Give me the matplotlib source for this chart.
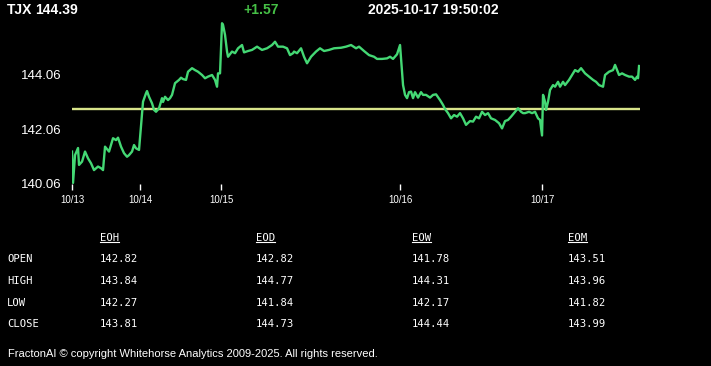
import matplotlib
matplotlib.use("Agg")
import matplotlib.pyplot as plt
from matplotlib.lines import Line2D

# header
symbol = "TJX"
last_price = "144.39"
change = "+1.57"
stamp = "2025-10-17 19:50:02"

# intraday series: bar number (from 10/13 open) and price
bars = [0, 1, 3, 6, 7, 10, 13, 16, 19, 22, 26, 29, 31, 33, 37, 38, 41, 44, 46, 49,
        52, 55, 57, 60, 62, 64, 67, 71, 74, 75, 77, 80, 82, 84, 87, 90, 91, 93, 96, 98,
        100, 103, 107, 109, 111, 114, 116, 120, 123, 126, 130, 133, 136, 140, 141, 143, 145, 146, 148, 150,
        151, 153, 155, 156, 160, 163, 166, 170, 172, 176, 180, 185, 190, 195, 200, 203, 206, 211, 215, 218,
        221, 222, 225, 229, 232, 235, 239, 244, 248, 252, 257, 262, 269, 274, 279, 284, 287, 292, 297, 302,
        305, 310, 315, 318, 321, 325, 328, 329, 331, 333, 335, 337, 339, 341, 343, 346, 349, 351, 354, 358,
        361, 364, 368, 371, 373, 376, 379, 382, 385, 388, 391, 394, 398, 401, 404, 407, 410, 413, 416, 419,
        423, 427, 430, 433, 436, 439, 443, 446, 449, 451, 453, 457, 460, 463, 466, 468, 470, 471, 473, 474,
        476, 478, 481, 483, 486, 488, 491, 493, 497, 500, 503, 506, 509, 513, 517, 521, 524, 527, 531, 533,
        537, 541, 543, 547, 550, 553, 557, 560, 563, 565, 566, 567]
prices = [141.25, 140.10, 141.12, 141.38, 140.76, 140.88, 141.25, 141.00, 140.82, 140.57,
          140.70, 140.64, 140.57, 141.43, 141.25, 141.37, 141.74, 141.67, 141.76, 141.43,
          141.19, 141.06, 141.12, 141.25, 141.49, 141.37, 141.31, 143.08, 143.39, 143.47,
          143.26, 143.02, 142.78, 142.71, 142.84, 143.21, 143.07, 143.26, 143.14, 143.21,
          143.33, 143.76, 143.88, 143.96, 143.91, 143.88, 144.18, 144.31, 144.24, 144.18,
          144.06, 143.94, 144.00, 144.06, 144.00, 143.88, 143.63, 144.12, 144.12, 145.96,
          145.90, 145.53, 144.92, 144.73, 144.92, 144.86, 145.04, 145.16, 144.89, 144.94,
          144.98, 145.10, 144.98, 145.04, 145.16, 145.28, 145.10, 145.10, 145.04, 144.79,
          144.86, 144.92, 144.86, 145.04, 144.73, 144.49, 144.73, 144.92, 145.04, 144.94,
          144.98, 145.04, 145.06, 145.10, 145.16, 145.04, 145.10, 144.94, 144.79, 144.73,
          144.65, 144.65, 144.67, 144.73, 144.65, 144.82, 145.16, 144.67, 143.69, 143.33,
          143.21, 143.43, 143.45, 143.21, 143.43, 143.23, 143.43, 143.33, 143.33, 143.23,
          143.33, 143.35, 143.14, 142.96, 142.81, 142.66, 142.47, 142.59, 142.53, 142.66,
          142.47, 142.23, 142.37, 142.35, 142.53, 142.47, 142.71, 142.59, 142.66, 142.47,
          142.41, 142.29, 142.10, 142.37, 142.41, 142.53, 142.71, 142.84, 142.71, 142.66,
          142.66, 142.71, 142.66, 142.71, 142.47, 142.41, 141.84, 143.33, 143.08, 142.78,
          143.08, 143.51, 143.69, 143.63, 143.81, 143.63, 143.81, 143.69, 143.88, 144.06,
          144.24, 144.18, 144.31, 144.12, 144.00, 143.88, 143.81, 143.69, 143.63, 144.06,
          144.18, 144.24, 144.43, 144.06, 144.12, 144.06, 144.00, 144.00, 143.88, 144.00,
          143.94, 144.39]
ref_level = 142.82

day_bars = [0, 68, 149, 328, 470]
day_labels = ["10/13", "10/14", "10/15", "10/16", "10/17"]
y_ticks = [140.06, 142.06, 144.06]

# stats table
row_names = ["OPEN", "HIGH", "LOW", "CLOSE"]
col_names = ["EOH", "EOD", "EOW", "EOM"]
eoh = ["142.82", "143.84", "142.27", "143.81"]
eod = ["142.82", "144.77", "141.84", "144.73"]
eow = ["141.78", "144.31", "142.17", "144.44"]
eom = ["143.51", "143.96", "141.82", "143.99"]
footer = "FractonAI \u00a9 copyright Whitehorse Analytics 2009-2025. All rights reserved."

plt.rcParams['font.family'] = ['Liberation Sans', 'DejaVu Sans']

fig = plt.figure(figsize=(7.11, 3.66), dpi=100, facecolor='black')
ax = fig.add_axes([0.1013, 0.4973, 0.7989, 0.4467])
ax.set_facecolor('black')

ax.plot(bars, prices, color='#44d874', lw=1.7, zorder=3)
ax.axhline(ref_level, color='#d8e48a', lw=1.7, zorder=2)

ax.set_xlim(0, 568)
ax.set_ylim(140.06, 146.06)
ax.set_yticks(y_ticks)
ax.set_yticklabels([f"{v:.2f}" for v in y_ticks])
ax.set_xticks(day_bars)
ax.set_xticklabels(day_labels)
ax.tick_params(axis='y', length=0, pad=7.5, labelsize=9.5, labelcolor='white')
ax.tick_params(axis='x', length=4, width=1, color='white', pad=4, labelsize=7, labelcolor='white')
for s in ax.spines.values():
    s.set_visible(False)

# header line
hy = 0.973
fig.text(0.0098, hy, symbol, color='white', fontsize=10, fontweight='bold', va='center')
fig.text(0.0492, hy, last_price, color='white', fontsize=10, fontweight='bold', va='center')
fig.text(0.343, hy, change, color='#46c046', fontsize=10, fontweight='bold', va='center')
fig.text(0.5176, hy, stamp, color='white', fontsize=10, fontweight='bold', va='center')

# table
mono = dict(family='DejaVu Sans Mono', fontsize=7.6, color='white', va='center')
col_x = [0.1406, 0.360, 0.5795, 0.7989]
row_y = [0.2923, 0.2322, 0.1721, 0.1148]
head_y = 0.3497
heads = []
for cx, name in zip(col_x, col_names):
    heads.append(fig.text(cx, head_y, name, **mono))
for ry, name in zip(row_y, row_names):
    fig.text(0.0098, ry, name, **mono)
for cx, vals in zip(col_x, [eoh, eod, eow, eom]):
    for ry, v in zip(row_y, vals):
        fig.text(cx, ry, v, **mono)

fig.text(0.0113, 0.0328, footer, color='white', fontsize=8, va='center')

# underline the column headers
fig.canvas.draw()
r = fig.canvas.get_renderer()
inv = fig.transFigure.inverted()
for t in heads:
    bb = t.get_window_extent(r)
    (x0, y0), (x1, _) = inv.transform([(bb.x0, bb.y0), (bb.x1, bb.y1)])
    fig.add_artist(Line2D([x0, x1], [y0 + 0.002, y0 + 0.002], color='white', lw=0.8,
                          transform=fig.transFigure))

fig.savefig("out.png", dpi=100, facecolor='black')
plt.close(fig)
